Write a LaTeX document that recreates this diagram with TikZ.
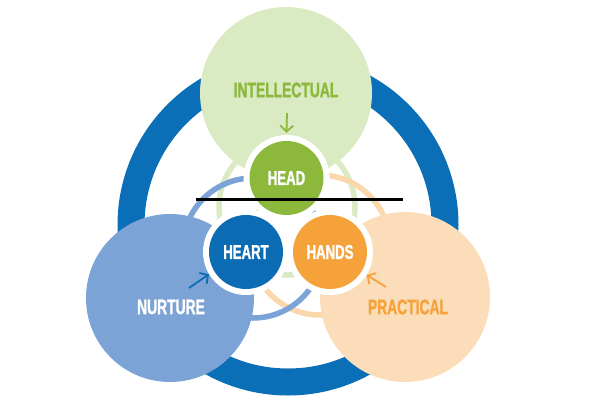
\documentclass[tikz,border=0pt]{standalone}
\usepackage{fontspec}
\setmainfont{Liberation Sans}[FakeStretch=0.66, FakeBold=1.2]
\usetikzlibrary{arrows.meta}
\definecolor{ringblue}{HTML}{0A6FB6}
\definecolor{lgreen}{HTML}{DAEBC3}
\definecolor{dgreen}{HTML}{8CB83C}
\definecolor{lblue}{HTML}{7CA3D6}
\definecolor{dblue}{HTML}{0B6CB4}
\definecolor{peach}{HTML}{FCDDB9}
\definecolor{orng}{HTML}{F5A23A}
\tikzset{
  bigc/.style={circle, inner sep=0pt, minimum size=172pt},
  bigtext/.style={font=\bfseries\fontsize{21}{21}\selectfont},
  smallc/.style={circle, inner sep=0pt, minimum size=74pt, text=white, font=\bfseries\fontsize{20}{20}\selectfont},
  halo/.style={circle, fill=white, inner sep=0pt, minimum size=86pt},
  thinring/.style={line width=5.5pt},
  arr/.style={line width=1.8pt, -{Straight Barb[length=6pt,width=13pt]}}
}
\begin{document}
\begin{tikzpicture}[x=1pt,y=-1pt]
\useasboundingbox[fill=white] (0,0) rectangle (600,400);
% thick ring
\draw[ringblue, line width=27pt] (288,225) circle[radius=157pt];
% thin rings
\draw[thinring, lgreen] (287,207) circle[radius=68pt];
\draw[thinring, peach!90!orng] (320,245) circle[radius=70pt];
\draw[thinring, lblue] (253,248) circle[radius=70pt];
% big circles
\node[bigc, fill=lgreen] (intel) at (286,93) {};
\node[bigc, fill=lblue, minimum size=168pt] (nurt) at (170,298) {};
\node[bigc, fill=peach, minimum size=170pt] (prac) at (405,297) {};
\node[bigtext, text=dgreen] (intelT) at (286,90) {INTELLECTUAL};
\node[bigtext, text=white] (nurtT) at (171,307) {NURTURE};
\node[bigtext, text=orng] (pracT) at (408,307) {PRACTICAL};
% halos and small circles
\node[halo] (headH) at (286.5,178) {};
\node[halo] (heartH) at (246,252) {};
\node[halo] (handsH) at (330,252) {};
\node[smallc, fill=dgreen] (head) at (286.5,178) {HEAD};
\node[smallc, fill=dblue] (heart) at (246,252) {HEART};
\node[smallc, fill=orng] (hands) at (330,252) {HANDS};
% arrows
\coordinate (a1) at (287,113);
\coordinate (a2) at (189,288);
\coordinate (a3) at (386,287);
\draw[arr, dgreen] (a1) -- ([yshift=2pt]headH.north);
\draw[arr, dblue] (a2) -- (heartH.211);
\draw[arr, orng] (a3) -- (handsH.328);
% black line
\coordinate (l1) at (196,199.5);
\coordinate (l2) at (403,199.5);
\draw[line width=3pt, black] (l1) -- (l2);
\end{tikzpicture}
\end{document}
